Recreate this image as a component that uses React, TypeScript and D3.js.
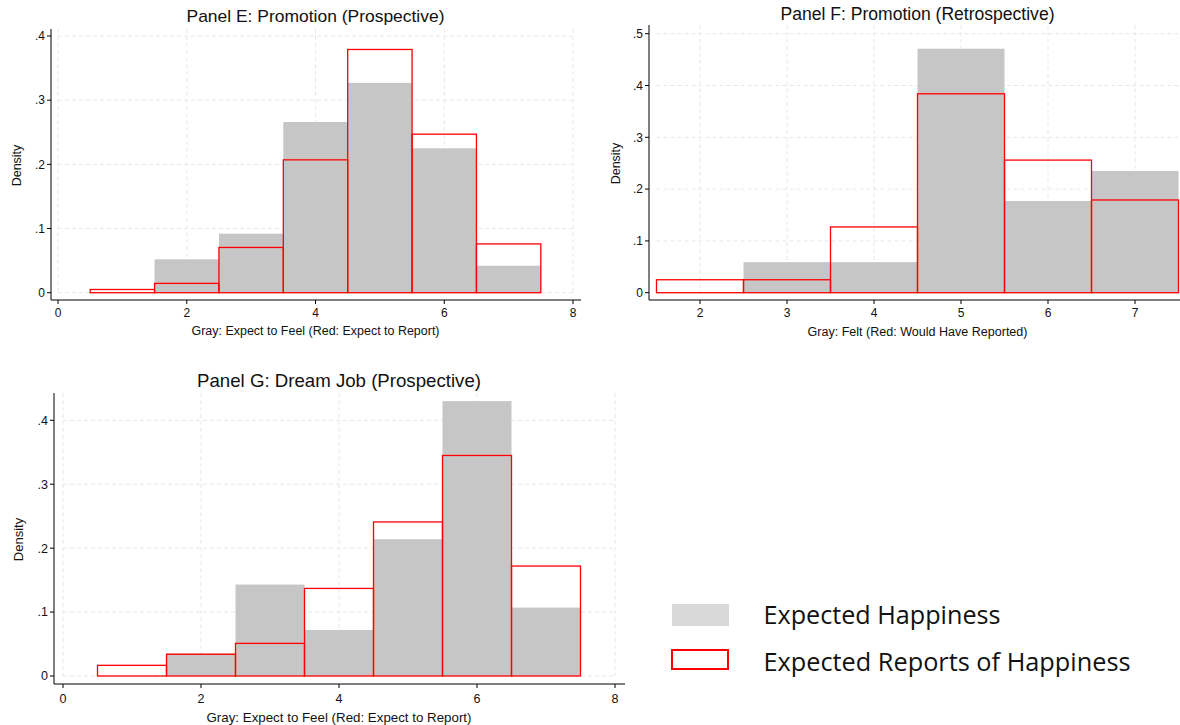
import React from "react";
import * as d3 from "d3";

// Histogram bins (integer response values, bin width 1)
const binsPromotion = [1, 2, 3, 4, 5, 6, 7];
const binsRetro = [2, 3, 4, 5, 6, 7];
const binsDream = [1, 2, 3, 4, 5, 6, 7];

// Panel E: Promotion (Prospective)
const promoProspFeel = [0, 0.052, 0.092, 0.266, 0.327, 0.225, 0.042];
const promoProspReport = [0.005, 0.0145, 0.0705, 0.207, 0.379, 0.247, 0.076];

// Panel F: Promotion (Retrospective)
const promoRetroFelt = [0, 0.059, 0.059, 0.471, 0.177, 0.235];
const promoRetroReport = [0.025, 0.025, 0.127, 0.384, 0.256, 0.179];

// Panel G: Dream Job (Prospective)
const dreamProspFeel = [0, 0.0355, 0.143, 0.072, 0.214, 0.43, 0.107];
const dreamProspReport = [0.0167, 0.034, 0.051, 0.137, 0.241, 0.345, 0.172];

// Axis ticks
const xTicksWide = [0, 2, 4, 6, 8];
const xTicksRetro = [2, 3, 4, 5, 6, 7];
const yTicksFour = [0, 0.1, 0.2, 0.3, 0.4];
const yTicksFive = [0, 0.1, 0.2, 0.3, 0.4, 0.5];

const legendLabels = ["Expected Happiness", "Expected Reports of Happiness"];

const GRAY = "#c6c6c6";
const RED = "#ff0000";
const GRID = "#e8e8e8";
const FONT = "'Liberation Sans', Arial, sans-serif";

const fmtY = (d: number) => (d === 0 ? "0" : d3.format(".1f")(d).replace(/^0/, ""));

type PanelProps = {
  title: string;
  xTitle: string;
  bins: number[];
  gray: number[];
  red: number[];
  xTicks: number[];
  yTicks: number[];
  xDomain: [number, number];
  xRange: [number, number];
  yDomain: [number, number];
  yRange: [number, number];
  frame: { left: number; right: number; top: number; bottom: number };
  gridSpan: [number, number];
  titleY: number;
  titleSize: number;
  titleWidth: number;
  tickLabelY: number;
  tickSize: number;
  xTitleY: number;
  xTitleSize: number;
  xTitleWidth: number;
  densityX: number;
};

function Panel(p: PanelProps) {
  const x = d3.scaleLinear().domain(p.xDomain).range(p.xRange);
  const y = d3.scaleLinear().domain(p.yDomain).range(p.yRange);
  const titleX = x((p.gridSpan[0] + p.gridSpan[1]) / 2);
  const y0 = y(0);
  return (
    <g>
      {/* grid */}
      {p.yTicks.map((t) => (
        <line
          key={"gy" + t}
          x1={x(p.gridSpan[0])}
          x2={x(p.gridSpan[1])}
          y1={y(t)}
          y2={y(t)}
          stroke={GRID}
          strokeWidth={1}
          strokeDasharray="4,3"
        />
      ))}
      {p.xTicks.map((t) => (
        <line
          key={"gx" + t}
          x1={x(t)}
          x2={x(t)}
          y1={p.frame.top}
          y2={y0}
          stroke={GRID}
          strokeWidth={1}
          strokeDasharray="4,3"
        />
      ))}
      {/* gray histogram */}
      {p.bins.map((b, i) =>
        p.gray[i] > 0 ? (
          <rect
            key={"g" + b}
            x={x(b - 0.5)}
            width={x(b + 0.5) - x(b - 0.5)}
            y={y(p.gray[i])}
            height={y0 - y(p.gray[i])}
            fill={GRAY}
          />
        ) : null
      )}
      {/* red outline histogram */}
      {p.bins.map((b, i) =>
        p.red[i] > 0 ? (
          <rect
            key={"r" + b}
            x={x(b - 0.5)}
            width={x(b + 0.5) - x(b - 0.5)}
            y={y(p.red[i])}
            height={y0 - y(p.red[i])}
            fill="none"
            stroke={RED}
            strokeWidth={1.3}
          />
        ) : null
      )}
      {/* axes */}
      <line x1={p.frame.left} x2={p.frame.left} y1={p.frame.top} y2={p.frame.bottom} stroke="#000" strokeWidth={1} />
      <line x1={p.frame.left} x2={p.frame.right} y1={p.frame.bottom} y2={p.frame.bottom} stroke="#000" strokeWidth={1} />
      {p.yTicks.map((t) => (
        <g key={"yt" + t}>
          <line x1={p.frame.left - 4} x2={p.frame.left} y1={y(t)} y2={y(t)} stroke="#000" />
          <text
            x={p.frame.left - 6}
            y={y(t)}
            dy="0.35em"
            textAnchor="end"
            fontSize={p.tickSize}
            fontFamily={FONT}
            fill="#111"
          >
            {fmtY(t)}
          </text>
        </g>
      ))}
      {p.xTicks.map((t) => (
        <g key={"xt" + t}>
          <line x1={x(t)} x2={x(t)} y1={p.frame.bottom} y2={p.frame.bottom + 4} stroke="#000" />
          <text
            x={x(t)}
            y={p.tickLabelY}
            dy="0.35em"
            textAnchor="middle"
            fontSize={p.tickSize}
            fontFamily={FONT}
            fill="#111"
          >
            {t}
          </text>
        </g>
      ))}
      <text
        x={titleX - p.titleWidth / 2}
        y={p.titleY}
        dy="0.35em"
        fontSize={p.titleSize}
        fontFamily={FONT}
        fill="#111"
        textLength={p.titleWidth}
        lengthAdjust="spacingAndGlyphs"
      >
        {p.title}
      </text>
      <text
        x={titleX - p.xTitleWidth / 2}
        y={p.xTitleY}
        dy="0.35em"
        fontSize={p.xTitleSize}
        fontFamily={FONT}
        fill="#111"
        textLength={p.xTitleWidth}
        lengthAdjust="spacingAndGlyphs"
      >
        {p.xTitle}
      </text>
      <text
        transform={`translate(${p.densityX},${(p.frame.top + p.frame.bottom) / 2 + 1}) rotate(-90)`}
        dy="0.35em"
        textAnchor="middle"
        fontSize={p.xTitleSize}
        fontFamily={FONT}
        fill="#111"
      >
        Density
      </text>
    </g>
  );
}

export default function App() {
  return (
    <svg
      width={1180}
      height={725}
      style={{ position: "absolute", left: 0, top: 0, background: "#fff" }}
    >
      <rect width={1180} height={725} fill="#fff" />
      <Panel
        title="Panel E: Promotion (Prospective)"
        xTitle="Gray: Expect to Feel (Red: Expect to Report)"
        bins={binsPromotion}
        gray={promoProspFeel}
        red={promoProspReport}
        xTicks={xTicksWide}
        yTicks={yTicksFour}
        xDomain={[0, 8]}
        xRange={[58, 573]}
        yDomain={[0, 0.4]}
        yRange={[292.7, 36]}
        frame={{ left: 51, right: 581, top: 29, bottom: 300 }}
        gridSpan={[0, 8]}
        titleY={16}
        titleSize={17}
        titleWidth={258}
        tickLabelY={313}
        tickSize={12}
        xTitleY={331}
        xTitleSize={12.5}
        xTitleWidth={248}
        densityX={17}
      />
      <Panel
        title="Panel F: Promotion (Retrospective)"
        xTitle="Gray: Felt (Red: Would Have Reported)"
        bins={binsRetro}
        gray={promoRetroFelt}
        red={promoRetroReport}
        xTicks={xTicksRetro}
        yTicks={yTicksFive}
        xDomain={[2, 7]}
        xRange={[700, 1135]}
        yDomain={[0, 0.5]}
        yRange={[292.7, 33.7]}
        frame={{ left: 649, right: 1180, top: 25, bottom: 300 }}
        gridSpan={[1.5, 7.5]}
        titleY={13.5}
        titleSize={17.5}
        titleWidth={274}
        tickLabelY={313}
        tickSize={12}
        xTitleY={332}
        xTitleSize={12.5}
        xTitleWidth={220}
        densityX={615.5}
      />
      <Panel
        title="Panel G: Dream Job (Prospective)"
        xTitle="Gray: Expect to Feel (Red: Expect to Report)"
        bins={binsDream}
        gray={dreamProspFeel}
        red={dreamProspReport}
        xTicks={xTicksWide}
        yTicks={yTicksFour}
        xDomain={[0, 8]}
        xRange={[63, 615]}
        yDomain={[0, 0.4]}
        yRange={[676, 420.3]}
        frame={{ left: 54, right: 625, top: 393, bottom: 684 }}
        gridSpan={[0, 8]}
        titleY={380.7}
        titleSize={18.5}
        titleWidth={284}
        tickLabelY={699}
        tickSize={12.5}
        xTitleY={717.3}
        xTitleSize={13}
        xTitleWidth={265}
        densityX={18}
      />
      {/* legend */}
      <rect x={672} y={604} width={57} height={22} fill="#d9d9d9" />
      <rect x={672} y={650} width={56} height={19} fill="none" stroke={RED} strokeWidth={2} />
      <text
        x={763.5}
        y={624}
        fontSize={25}
        fontFamily="'Open Sans', 'Noto Sans', sans-serif"
        fill="#111"
        textLength={237}
        lengthAdjust="spacingAndGlyphs"
      >
        {legendLabels[0]}
      </text>
      <text
        x={763.5}
        y={671}
        fontSize={25}
        fontFamily="'Open Sans', 'Noto Sans', sans-serif"
        fill="#111"
        textLength={367}
        lengthAdjust="spacingAndGlyphs"
      >
        {legendLabels[1]}
      </text>
    </svg>
  );
}
